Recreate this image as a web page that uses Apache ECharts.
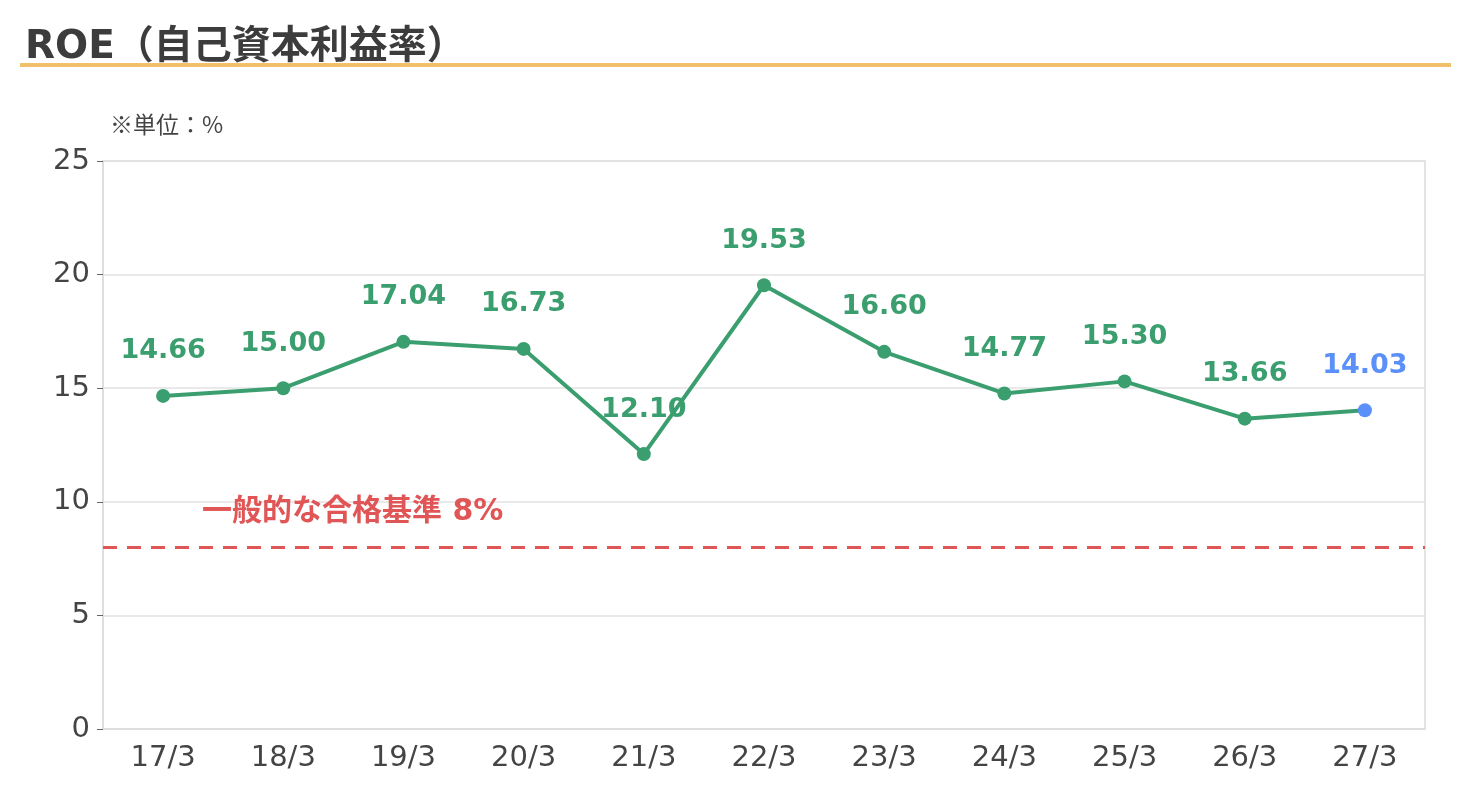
<!DOCTYPE html>
<html lang="ja" style="height: 100%">
<head>
<meta charset="utf-8" />
</head>
<body style="height: 100%; margin: 0; background: #fff">
<div id="container" style="height: 100%"></div>
<script src="https://cdn.jsdelivr.net/npm/echarts@6/dist/echarts.min.js"></script>
<script>
var categories = ['17/3', '18/3', '19/3', '20/3', '21/3', '22/3', '23/3', '24/3', '25/3', '26/3', '27/3'];
var roeValues = [14.66, 15.00, 17.04, 16.73, 12.10, 19.53, 16.60, 14.77, 15.30, 13.66, 14.03];
var forecastIndex = 10;
var benchmark = 8;
var yTicks = { min: 0, max: 25, interval: 5 };

var green = '#3a9e6f';
var blue = '#5b8ff9';
var red = '#e05555';
var font = '"DejaVu Sans", "Noto Sans CJK JP", sans-serif';
var jpFont = '"Noto Sans CJK JP", sans-serif';

var dom = document.getElementById('container');
var myChart = echarts.init(dom, null, { renderer: 'canvas' });

var seriesData = roeValues.map(function (v, i) {
    if (i === forecastIndex) {
        return {
            value: v,
            itemStyle: { color: blue },
            label: { color: blue }
        };
    }
    return v;
});

var option = {
    backgroundColor: '#fff',
    animation: false,
    title: {
        text: 'ROE（自己資本利益率）',
        left: 20,
        top: 23,
        textStyle: { fontFamily: font, fontSize: 39, fontWeight: 'bold', color: '#3c3c3c' }
    },
    graphic: [
        {
            type: 'rect',
            shape: { x: 20, y: 63, width: 1431, height: 4 },
            style: { fill: '#f2c06a' }
        },
        {
            type: 'text',
            left: 110,
            top: 113,
            style: { text: '※単位：%', font: '23px ' + jpFont, fill: '#444' }
        }
    ],
    grid: { left: 103, right: 45, top: 161, bottom: 81, show: true, borderColor: '#dcdcdc', borderWidth: 1.5 },
    xAxis: {
        type: 'category',
        data: categories,
        boundaryGap: true,
        axisLine: { lineStyle: { color: '#dcdcdc', width: 1.5 } },
        axisTick: { alignWithLabel: true, lineStyle: { color: '#666' } },
        axisLabel: { fontFamily: font, fontSize: 29, color: '#444', margin: 15 }
    },
    yAxis: {
        type: 'value',
        min: yTicks.min,
        max: yTicks.max,
        interval: yTicks.interval,
        axisLine: { show: true, lineStyle: { color: '#dcdcdc', width: 1.5 } },
        axisTick: { show: true, length: 6, lineStyle: { color: '#666' } },
        axisLabel: { fontFamily: font, fontSize: 29, color: '#444', margin: 13 },
        splitLine: { lineStyle: { color: '#e2e2e2', width: 1.5 } }
    },
    series: [
        {
            type: 'line',
            data: seriesData,
            symbol: 'circle',
            symbolSize: 14,
            lineStyle: { color: green, width: 4 },
            itemStyle: { color: green },
            label: {
                show: true,
                position: 'top',
                distance: 24,
                fontFamily: font,
                fontSize: 27,
                fontWeight: 'bold',
                color: green,
                formatter: function (p) { return p.value.toFixed(2); }
            },
            markLine: {
                silent: true,
                symbol: 'none',
                data: [{ yAxis: benchmark }],
                lineStyle: { color: red, width: 3, type: [14, 10] },
                label: {
                    show: true,
                    position: 'insideStartTop',
                    formatter: '一般的な合格基準 8%',
                    fontFamily: font,
                    fontSize: 30,
                    fontWeight: 'bold',
                    color: red,
                    offset: [94, -15]
                }
            }
        }
    ]
};

myChart.setOption(option);
window.addEventListener('resize', myChart.resize);
</script>
</body>
</html>
